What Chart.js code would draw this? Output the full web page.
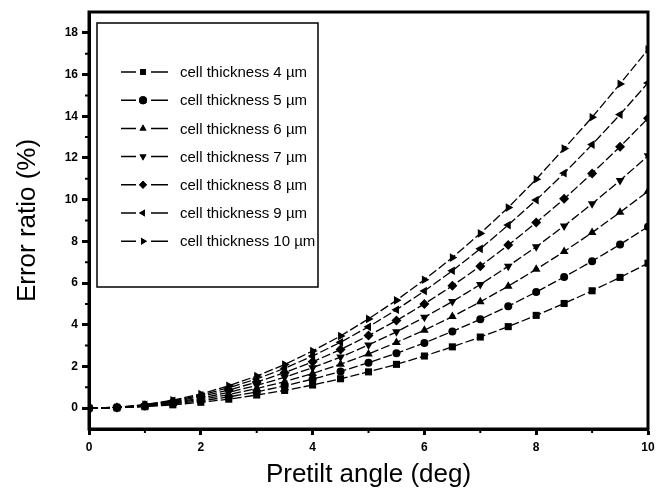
<!DOCTYPE html>
<html>
<head>
<meta charset="utf-8">
<script src="https://cdn.jsdelivr.net/npm/chart.js@4.4.1/dist/chart.umd.min.js"></script>
<style>
  html, body { margin: 0; padding: 0; background: #fff; }
  #wrap { width: 663px; height: 498px; }
</style>
</head>
<body>
<div id="wrap"><canvas id="chart" width="663" height="498"></canvas></div>
<script>
// pretilt angle (deg)
const angles = [0, 0.5, 1, 1.5, 2, 2.5, 3, 3.5, 4, 4.5, 5, 5.5, 6, 6.5, 7, 7.5, 8, 8.5, 9, 9.5, 10]

// error ratio (%) per cell thickness
const err4 = [0, 0.02, 0.07, 0.16, 0.28, 0.43, 0.63, 0.85, 1.11, 1.41, 1.74, 2.10, 2.50, 2.94, 3.41, 3.91, 4.45, 5.02, 5.63, 6.27, 6.95]
const err5 = [0, 0.02, 0.09, 0.20, 0.35, 0.54, 0.78, 1.07, 1.39, 1.76, 2.18, 2.63, 3.13, 3.68, 4.26, 4.89, 5.57, 6.29, 7.05, 7.85, 8.70]
const err6 = [0, 0.03, 0.10, 0.23, 0.42, 0.65, 0.94, 1.27, 1.66, 2.11, 2.60, 3.15, 3.74, 4.39, 5.10, 5.85, 6.66, 7.51, 8.42, 9.39, 10.40]
const err7 = [0, 0.03, 0.12, 0.27, 0.48, 0.76, 1.09, 1.48, 1.94, 2.45, 3.03, 3.66, 4.36, 5.11, 5.93, 6.81, 7.74, 8.74, 9.80, 10.92, 12.10]
const err8 = [0, 0.03, 0.14, 0.31, 0.56, 0.87, 1.25, 1.70, 2.22, 2.81, 3.48, 4.20, 5.00, 5.87, 6.81, 7.82, 8.90, 10.04, 11.26, 12.54, 13.90]
const err9 = [0, 0.04, 0.16, 0.35, 0.62, 0.98, 1.40, 1.91, 2.50, 3.16, 3.90, 4.72, 5.62, 6.59, 7.64, 8.78, 9.98, 11.27, 12.64, 14.08, 15.60]
const err10 = [0, 0.04, 0.17, 0.38, 0.68, 1.07, 1.54, 2.09, 2.74, 3.46, 4.28, 5.17, 6.16, 7.22, 8.38, 9.62, 10.98, 12.45, 13.95, 15.55, 17.20]

const labels = ['cell thickness 4 µm', 'cell thickness 5 µm', 'cell thickness 6 µm', 'cell thickness 7 µm',
                'cell thickness 8 µm', 'cell thickness 9 µm', 'cell thickness 10 µm']
const series = [err4, err5, err6, err7, err8, err9, err10]

const xTicks = [0, 2, 4, 6, 8, 10]
const xMinor = [1, 3, 5, 7, 9]
const yTicks = [0, 2, 4, 6, 8, 10, 12, 14, 16, 18]
const yMinor = [1, 3, 5, 7, 9, 11, 13, 15, 17]

// marker shapes, one per series
const markers = [
  {style: 'rect', rot: 0, r: 5},
  {style: 'circle', rot: 0, r: 4},
  {style: 'triangle', rot: 0, r: 5},
  {style: 'triangle', rot: 180, r: 5},
  {style: 'rectRot', rot: 0, r: 5},
  {style: 'triangle', rot: -90, r: 5},
  {style: 'triangle', rot: 90, r: 5}
]

const datasets = series.map((vals, i) => ({
  label: labels[i],
  data: vals.map((v, j) => ({x: angles[j], y: v})),
  borderColor: '#000',
  backgroundColor: '#000',
  borderWidth: 1.3,
  borderDash: [9, 3],
  pointStyle: markers[i].style,
  rotation: markers[i].rot,
  pointRadius: markers[i].r,
  pointBorderWidth: 0,
  tension: 0
}))

// frame around plot + minor ticks
const framePlugin = {
  id: 'frame',
  afterDraw(chart) {
    const ctx = chart.ctx
    const a = chart.chartArea
    const xs = chart.scales.x, ys = chart.scales.y
    ctx.save()
    ctx.strokeStyle = '#000'
    ctx.lineWidth = 3
    ctx.strokeRect(a.left, a.top, a.right - a.left, a.bottom - a.top)
    ctx.lineWidth = 2
    ctx.beginPath()
    xMinor.forEach(v => {
      const px = xs.getPixelForValue(v)
      ctx.moveTo(px, a.bottom)
      ctx.lineTo(px, a.bottom + 4)
    })
    yMinor.forEach(v => {
      const py = ys.getPixelForValue(v)
      ctx.moveTo(a.left, py)
      ctx.lineTo(a.left - 4, py)
    })
    ctx.stroke()
    ctx.restore()
  }
}

// legend box inside the plot, like the figure
const legendPlugin = {
  id: 'boxLegend',
  afterDraw(chart) {
    const ctx = chart.ctx
    const bx = 97, by = 23, bw = 221, bh = 264
    ctx.save()
    ctx.fillStyle = '#fff'
    ctx.fillRect(bx, by, bw, bh)
    ctx.strokeStyle = '#000'
    ctx.lineWidth = 1.5
    ctx.strokeRect(bx, by, bw, bh)
    ctx.font = '15px "Liberation Sans", Arial, sans-serif'
    ctx.textBaseline = 'middle'
    chart.data.datasets.forEach((ds, i) => {
      const y = 72 + i * 28.2
      ctx.strokeStyle = '#000'
      ctx.lineWidth = 1.5
      ctx.beginPath()
      ctx.moveTo(121, y); ctx.lineTo(136, y)
      ctx.moveTo(151, y); ctx.lineTo(168, y)
      ctx.stroke()
      ctx.fillStyle = '#000'
      Chart.helpers.drawPoint(ctx, {pointStyle: ds.pointStyle, rotation: ds.rotation, radius: 4, borderWidth: 0}, 143, y)
      ctx.fill()
      ctx.fillStyle = '#000'
      ctx.fillText(ds.label, 180, y + 1)
    })
    ctx.restore()
  }
}

const tickFont = {family: '"Liberation Sans", Arial, sans-serif', size: 12, weight: 'bold'}
const titleFont = {family: '"Liberation Sans", Arial, sans-serif', size: 26, weight: 'normal'}

new Chart(document.getElementById('chart'), {
  type: 'line',
  data: {datasets: datasets},
  options: {
    responsive: false,
    animation: false,
    events: [],
    layout: {padding: {top: 12, right: 15, left: 0, bottom: 0}},
    plugins: {legend: {display: false}, tooltip: {enabled: false}},
    scales: {
      x: {
        type: 'linear',
        min: 0, max: 10,
        afterBuildTicks: s => { s.ticks = xTicks.map(v => ({value: v})) },
        afterFit: s => { s.height = 69 },
        grid: {drawOnChartArea: false, drawTicks: true, tickLength: 6, tickWidth: 3, tickColor: '#000'},
        border: {color: '#000', width: 3},
        ticks: {color: '#000', font: tickFont, padding: 5, maxRotation: 0},
        title: {display: true, text: 'Pretilt angle (deg)', color: '#000', font: titleFont, padding: {top: 8, bottom: 8}}
      },
      y: {
        type: 'linear',
        min: -1, max: 19,
        afterBuildTicks: s => { s.ticks = yTicks.map(v => ({value: v})) },
        afterFit: s => { s.width = 89 },
        grid: {drawOnChartArea: false, drawTicks: true, tickLength: 7, tickWidth: 3, tickColor: '#000'},
        border: {color: '#000', width: 3},
        ticks: {color: '#000', font: tickFont, padding: 4},
        title: {display: true, text: 'Error ratio (%)', color: '#000', font: titleFont, padding: {top: 12, bottom: 12}}
      }
    }
  },
  plugins: [framePlugin, legendPlugin]
})
</script>
</body>
</html>
